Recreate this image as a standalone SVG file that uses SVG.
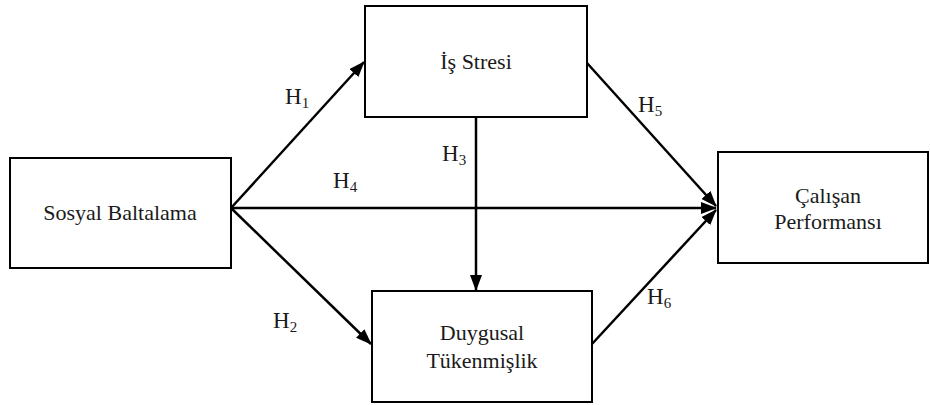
<svg xmlns="http://www.w3.org/2000/svg" width="930" height="405" viewBox="0 0 930 405">
<defs>
<style>
.box{fill:#fff;stroke:#000;stroke-width:2}
.t{font-family:'Liberation Serif','DejaVu Serif',serif;font-size:22px;fill:#1a1a1a;text-anchor:middle}
.h{font-family:'Liberation Serif','DejaVu Serif',serif;font-size:23px;fill:#1a1a1a}
.sub{font-size:15px}
.c{stroke:#000;stroke-width:2.5;fill:none;marker-end:url(#ah)}
</style>
<marker id="ah" markerUnits="userSpaceOnUse" viewBox="0 0 16 12" refX="15" refY="6" markerWidth="16" markerHeight="12" orient="auto">
<path d="M0,0 L16,6 L0,12 Z" fill="#000"/>
</marker>
</defs>
<rect width="930" height="405" fill="#fff"/>
<g id="connectors">
<line class="c" x1="231" y1="208" x2="364" y2="62"/>
<line class="c" x1="231" y1="208" x2="371" y2="344"/>
<line class="c" x1="231" y1="208" x2="716" y2="208"/>
<line class="c" x1="476" y1="117" x2="476" y2="290"/>
<line class="c" x1="587" y1="63" x2="716" y2="206"/>
<line class="c" x1="592" y1="344" x2="716" y2="210"/>
</g>
<g id="labels">
<text class="h" x="285" y="104">H<tspan class="sub" dy="4">1</tspan></text>
<text class="h" x="273" y="328">H<tspan class="sub" dy="4">2</tspan></text>
<text class="h" x="442" y="161">H<tspan class="sub" dy="4">3</tspan></text>
<text class="h" x="333" y="188">H<tspan class="sub" dy="4">4</tspan></text>
<text class="h" x="638" y="112">H<tspan class="sub" dy="4">5</tspan></text>
<text class="h" x="647" y="304">H<tspan class="sub" dy="4">6</tspan></text>
</g>
<g id="sosyal">
<rect class="box" x="10" y="158" width="221" height="110"/>
<text class="t" x="120" y="220">Sosyal Baltalama</text>
</g>
<g id="isstresi">
<rect class="box" x="365" y="6" width="222" height="111"/>
<text class="t" x="476" y="69">İş Stresi</text>
</g>
<g id="duygusal">
<rect class="box" x="372" y="291" width="220" height="111"/>
<text class="t" x="482" y="340">Duygusal</text>
<text class="t" x="482" y="368">Tükenmişlik</text>
</g>
<g id="calisan">
<rect class="box" x="718" y="152" width="210" height="111"/>
<text class="t" x="828" y="203">Çalışan</text>
<text class="t" x="828" y="229">Performansı</text>
</g>
</svg>
